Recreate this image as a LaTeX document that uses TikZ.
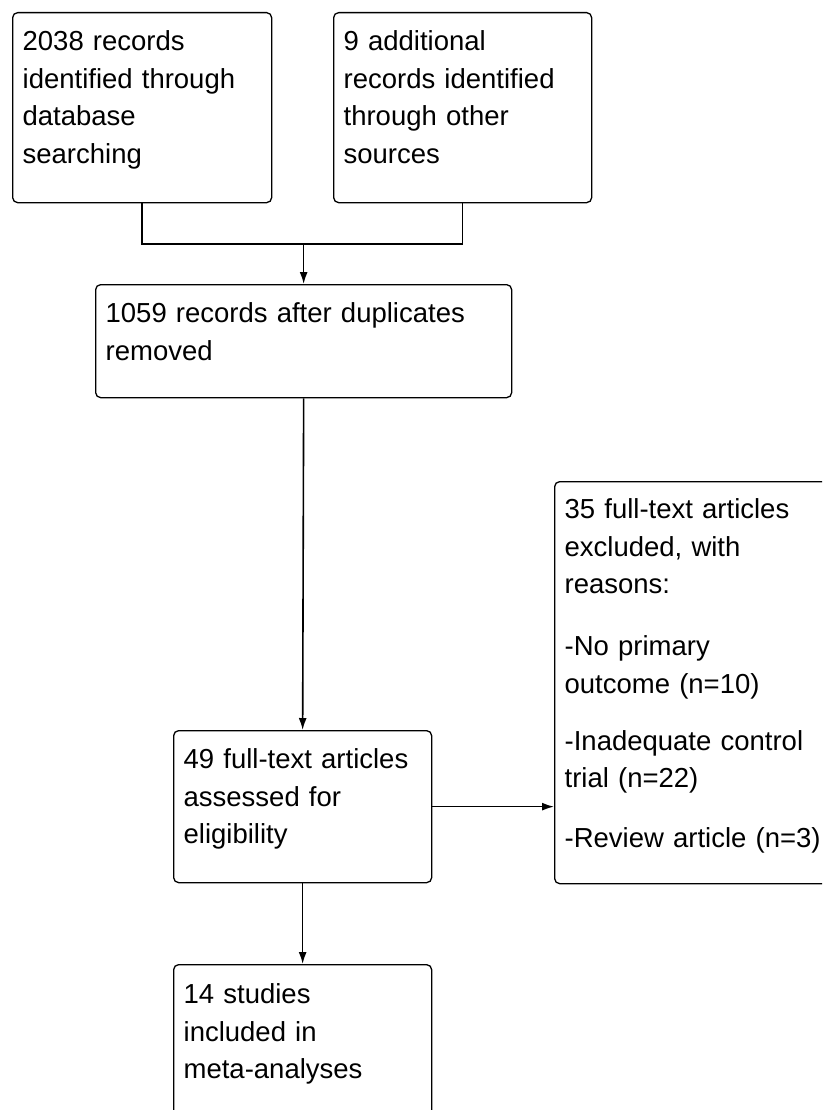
\documentclass[tikz,border=0pt]{standalone}
\usepackage{fontspec}
\setmainfont{Liberation Sans}
\usetikzlibrary{arrows.meta,calc}
\newcommand{\boxfont}{\fontsize{27.5}{37.6}\selectfont}
\begin{document}
\begin{tikzpicture}
  [x=1pt,y=-1pt,
   box/.style={draw,rounded corners=5pt,line width=1.3pt,anchor=north west,
     inner xsep=10pt,inner ysep=0pt,align=left,font=\boxfont,text height=38pt},
   link/.style={line width=1.6pt,-{Latex[length=12pt,width=8pt]}}]
\useasboundingbox (0,0) rectangle (822,1110);
\clip (0,0) rectangle (822,1110);
\node (db)[box,text width=239pt,text depth=152pt] at (12,12)
  {2038 records\\identified through\\database\\searching};
\node (other)[box,text width=238pt,text depth=152pt] at (333,12)
  {9 additional\\records identified\\through other\\sources};
\node (dup)[box,text width=396pt,text depth=75pt] at (95,284)
  {1059 records after duplicates\\removed};
\node (full)[box,text width=238pt,text depth=114pt] at (173,730)
  {49 full-text articles\\assessed for\\eligibility};
\node (excl)[box,text width=280pt,text height=37pt,text depth=365pt] at (554,481)
  {35 full-text articles\\excluded, with\\reasons:\\[24.5pt]-No primary\\outcome (n=10)\\[19pt]-Inadequate control\\trial (n=22)\\[22.5pt]-Review article (n=3)};
\node (incl)[box,text width=238pt,text height=39pt,text depth=181pt] at (173,964)
  {14 studies\\included in\\meta-analyses};
\coordinate (join) at (dup.north |- 0,244);
\draw[line width=1.6pt] (db.south) |- (join) -| (other.south);
\draw[link] (join) -- (dup.north);
\foreach \from/\to in {dup/full,full/incl}
  \draw[link] (\from.south) -- (\to.north);
\draw[link] (full.east) -- (full.east -| excl.west);
\end{tikzpicture}
\end{document}
